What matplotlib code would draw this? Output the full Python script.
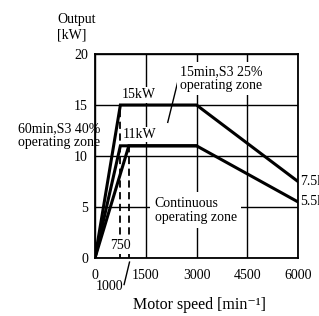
import matplotlib
matplotlib.use("Agg")
import matplotlib.pyplot as plt

plt.rcParams["font.family"] = ["Liberation Serif", "DejaVu Serif"]
plt.rcParams["font.size"] = 10

# speed [min^-1] / output [kW]
S3_15MIN_SPEED = [0, 750, 3000, 6000]
S3_15MIN_KW = [0, 15, 15, 7.5]
S3_60MIN_SPEED = [0, 750, 3000]
S3_60MIN_KW = [0, 11, 11]
CONT_SPEED = [0, 1000, 3000, 6000]
CONT_KW = [0, 11, 11, 5.5]
BASE_SPEEDS = [750, 1000]
BASE_KW = [15, 11]
X_TICKS = [0, 1500, 3000, 4500, 6000]
Y_TICKS = [0, 5, 10, 15, 20]

fig = plt.figure(figsize=(3.19, 3.16), dpi=100)
ax = fig.add_axes([0.2978, 0.1835, 0.6364, 0.6456])

ax.set_xlim(0, 6000)
ax.set_ylim(0, 20)
ax.set_xticks(X_TICKS)
ax.set_yticks(Y_TICKS)
ax.tick_params(length=0, labelsize=10)
ax.tick_params(axis="x", pad=8)
ax.tick_params(axis="y", pad=5)
for s in ax.spines.values():
    s.set_linewidth(1.3)
ax.grid(color="black", lw=1.0)
ax.set_axisbelow(True)

lw = 2.2
ax.plot(S3_15MIN_SPEED, S3_15MIN_KW, color="black", lw=lw, solid_joinstyle="miter")
ax.plot(S3_60MIN_SPEED, S3_60MIN_KW, color="black", lw=lw, solid_joinstyle="miter")
ax.plot(CONT_SPEED, CONT_KW, color="black", lw=lw, solid_joinstyle="miter")
for sp, kw in zip(BASE_SPEEDS, BASE_KW):
    ax.plot([sp, sp], [0, kw], color="black", lw=1.3, ls=(0, (4, 2.5)))

# labels
wb = dict(facecolor="white", edgecolor="none", pad=1.0)
ax.text(790, 16.0, "15kW", ha="left", va="center", bbox=wb, zorder=4)
ax.text(820, 12.1, "11kW", ha="left", va="center", bbox=wb, zorder=4)
ax.text(750, 1.2, "750", ha="center", va="center", bbox=wb, zorder=4)
ax.text(2520, 17.6, "15min,S3 25%\noperating zone", ha="left", va="center",
        linespacing=1.1, bbox=dict(facecolor="white", edgecolor="none", pad=2.5), zorder=4)
ax.text(1760, 4.7, "Continuous\noperating zone", ha="left", va="center",
        linespacing=1.1, bbox=dict(facecolor="white", edgecolor="none", pad=3.0), zorder=4)
ax.text(6060, 7.5, "7.5kW", ha="left", va="center", clip_on=False)
ax.text(6060, 5.5, "5.5kW", ha="left", va="center", clip_on=False)
ax.text(-2290, 12.0, "60min,S3 40%\noperating zone", ha="left", va="center",
        linespacing=1.1, clip_on=False, zorder=4)

# leaders
ax.plot([2500, 2150], [18.0, 13.3], color="black", lw=1.0)
ax.plot([1020, 860], [-0.4, -2.6], color="black", lw=1.0, clip_on=False)
ax.text(850, -2.75, "1000", ha="right", va="center", clip_on=False)

fig.text(0.179, 0.913, "Output\n[kW]", ha="left", va="center", linespacing=1.3, fontsize=10)
fig.text(0.625, 0.035, "Motor speed [min\u207b\u00b9]", ha="center", va="center", fontsize=11.5)

fig.savefig("out.png", dpi=100)
